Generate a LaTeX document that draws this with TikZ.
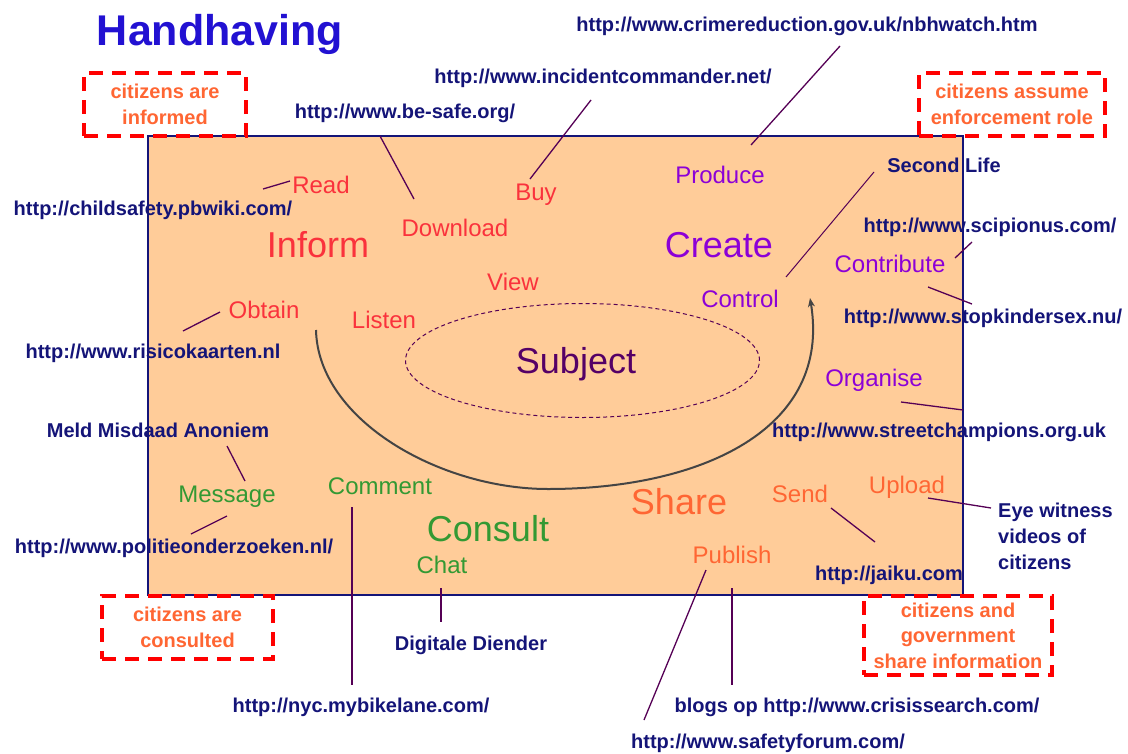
\documentclass[tikz,border=0pt]{standalone}
\usepackage{fontspec}
\setmainfont{Liberation Sans}
\usetikzlibrary{shapes.geometric,arrows.meta}
\definecolor{titleblue}{RGB}{34,17,210}
\definecolor{navy}{RGB}{20,20,120}
\definecolor{peach}{RGB}{255,204,153}
\definecolor{boxred}{RGB}{255,0,0}
\definecolor{boxorange}{RGB}{255,102,51}
\definecolor{wred}{RGB}{250,50,60}
\definecolor{wpurple}{RGB}{140,0,215}
\definecolor{wgreen}{RGB}{51,153,51}
\definecolor{worange}{RGB}{255,102,51}
\definecolor{subj}{RGB}{85,0,102}
\definecolor{linecol}{RGB}{85,0,85}
\definecolor{arrowgray}{RGB}{68,68,68}
\begin{document}
\begin{tikzpicture}[x=1pt,y=-1pt,
  url/.style={text=navy, font=\fontsize{20}{26}\selectfont\bfseries, anchor=base, inner sep=0pt},
  word/.style={font=\fontsize{24}{28}\selectfont, anchor=base, inner sep=0pt},
  big/.style={font=\fontsize{36}{40}\selectfont, anchor=base, inner sep=0pt},
  conn/.style={draw=linecol, line width=1.3pt},
  role/.style={draw=boxred, line width=4pt, dash pattern=on 14pt off 9pt, text=boxorange,
    font=\fontsize{20}{25.5}\selectfont\bfseries, align=center, inner sep=0pt},
  frame/.style={draw=navy, fill=peach, line width=1.5pt, inner sep=0pt, outer sep=0pt,
    minimum width=815pt, minimum height=459pt},
  ring/.style={ellipse, draw=linecol, line width=1pt, dash pattern=on 4pt off 3pt,
    minimum width=354pt, minimum height=114pt, inner sep=0pt},
  cycle/.style={draw=arrowgray, line width=2pt, -{Stealth[length=9pt,width=7pt]}}
]
\useasboundingbox (0,0) rectangle (1128,753);

% frame
\node[frame] (frame) at (555.5,365.5) {};

% title
\node[anchor=base, inner sep=0pt, text=titleblue, font=\fontsize{43}{48}\selectfont\bfseries] (title) at (220,45) {Handhaving};

% role boxes
\node[role, minimum width=162pt, minimum height=63pt] (informed) at (165,104.5) {citizens are\\informed};
\node[role, minimum width=186pt, minimum height=63pt] (enforce) at (1012,104.5) {citizens assume\\enforcement role};
\node[role, minimum width=171pt, minimum height=63pt] (consulted) at (187.5,627.5) {citizens are\\consulted};
\node[role, minimum width=188pt, minimum height=79pt] (sharegov) at (958,635.5) {citizens and\\government\\share information};

% subject
\node[ring] (ring) at (582.5,360.5) {};
\node[big, text=subj] (subject) at (576,373) {Subject};

% inform (red)
\node[big, text=wred] (inform) at (318,257) {Inform};
\node[word, text=wred] (read) at (321,193) {Read};
\node[word, text=wred] (download) at (455,236) {Download};
\node[word, text=wred] (buy) at (536,200) {Buy};
\node[word, text=wred] (view) at (513,290) {View};
\node[word, text=wred] (obtain) at (264,318) {Obtain};
\node[word, text=wred] (listen) at (384,328) {Listen};

% create (purple)
\node[big, text=wpurple] (create) at (719,257) {Create};
\node[word, text=wpurple] (produce) at (720,183) {Produce};
\node[word, text=wpurple] (control) at (740,307) {Control};
\node[word, text=wpurple] (contribute) at (890,272) {Contribute};
\node[word, text=wpurple] (organise) at (874,386) {Organise};

% consult (green)
\node[big, text=wgreen] (consult) at (488,541) {Consult};
\node[word, text=wgreen] (message) at (227,502) {Message};
\node[word, text=wgreen] (comment) at (380,494) {Comment};
\node[word, text=wgreen] (chat) at (442,573) {Chat};

% share (orange)
\node[big, text=worange] (share) at (679,514) {Share};
\node[word, text=worange] (send) at (800,502) {Send};
\node[word, text=worange] (upload) at (907,493) {Upload};
\node[word, text=worange] (publish) at (732,563) {Publish};

% url labels
\node[url] (crime) at (807,31) {http://www.crimereduction.gov.uk/nbhwatch.htm};
\node[url] (incident) at (603,83) {http://www.incidentcommander.net/};
\node[url] (besafe) at (405,118) {http://www.be-safe.org/};
\node[url] (childsafety) at (153,215) {http://childsafety.pbwiki.com/};
\node[url] (risico) at (153,358) {http://www.risicokaarten.nl};
\node[url] (meld) at (158,437) {Meld Misdaad Anoniem};
\node[url] (politie) at (174,553) {http://www.politieonderzoeken.nl/};
\node[url] (digitale) at (471,650) {Digitale Diender};
\node[url] (nyc) at (361,712) {http://nyc.mybikelane.com/};
\node[url] (blogs) at (857,712) {blogs op http://www.crisissearch.com/};
\node[url] (safetyforum) at (768,748) {http://www.safetyforum.com/};
\node[url] (secondlife) at (944,172) {Second Life};
\node[url] (scipionus) at (990,232) {http://www.scipionus.com/};
\node[url] (stopkinder) at (983,323) {http://www.stopkindersex.nu/};
\node[url] (street) at (939,437) {http://www.streetchampions.org.uk};
\node[url] (jaiku) at (889,580) {http://jaiku.com};
\node[url, align=left, anchor=west] (eye) at (998,536) {Eye witness\\videos of\\citizens};

% connector end points
\coordinate (besafe-end) at (380,136);   \coordinate (download-end) at (414,199);
\coordinate (incident-end) at (591,100); \coordinate (buy-end) at (530,179);
\coordinate (crime-end) at (840,46);     \coordinate (produce-end) at (751,145);
\coordinate (child-end) at (263,189);    \coordinate (read-end) at (290,181);
\coordinate (risico-end) at (183,331);   \coordinate (obtain-end) at (220,312);
\coordinate (second-end) at (874,172);   \coordinate (control-end) at (786,277);
\coordinate (scip-end) at (972,242);     \coordinate (contrib-end) at (955,258);
\coordinate (contrib-end2) at (928,287); \coordinate (stop-end) at (972,304);
\coordinate (organise-end) at (901,402); \coordinate (street-end) at (963,410);
\coordinate (meld-end) at (227,446);     \coordinate (message-end) at (245,481);
\coordinate (message-end2) at (227,516); \coordinate (politie-end) at (191,534);
\coordinate (comment-end) at (352,507);  \coordinate (nyc-end) at (352,685);
\coordinate (chat-end) at (441,588);     \coordinate (digitale-end) at (441,622);
\coordinate (publish-end) at (706,570);  \coordinate (safety-end) at (644,720);
\coordinate (publish-end2) at (732,588); \coordinate (blogs-end) at (732,685);
\coordinate (send-end) at (831,508);     \coordinate (jaiku-end) at (875,542);
\coordinate (upload-end) at (928,498);   \coordinate (eye-end) at (991,508);

\draw[conn] (besafe-end) -- (download-end);
\draw[conn] (incident-end) -- (buy-end);
\draw[conn] (crime-end) -- (produce-end);
\draw[conn] (child-end) -- (read-end);
\draw[conn] (risico-end) -- (obtain-end);
\draw[conn, line width=1pt] (second-end) -- (control-end);
\draw[conn] (scip-end) -- (contrib-end);
\draw[conn] (contrib-end2) -- (stop-end);
\draw[conn] (organise-end) -- (street-end);
\draw[conn] (meld-end) -- (message-end);
\draw[conn] (message-end2) -- (politie-end);
\draw[conn] (comment-end) -- (nyc-end);
\draw[conn] (chat-end) -- (digitale-end);
\draw[conn] (publish-end) -- (safety-end);
\draw[conn, line width=1.8pt] (publish-end2) -- (blogs-end);
\draw[conn] (send-end) -- (jaiku-end);
\draw[conn] (upload-end) -- (eye-end);

% cycle arrow
\coordinate (cyc-start) at (316,330);
\coordinate (cyc-bottom) at (548,489);
\coordinate (cyc-tip) at (810,298);
\draw[cycle] (cyc-start) .. controls (318,420) and (440,489) .. (cyc-bottom)
  .. controls (700,489) and (832,430) .. (cyc-tip);
\end{tikzpicture}
\end{document}
